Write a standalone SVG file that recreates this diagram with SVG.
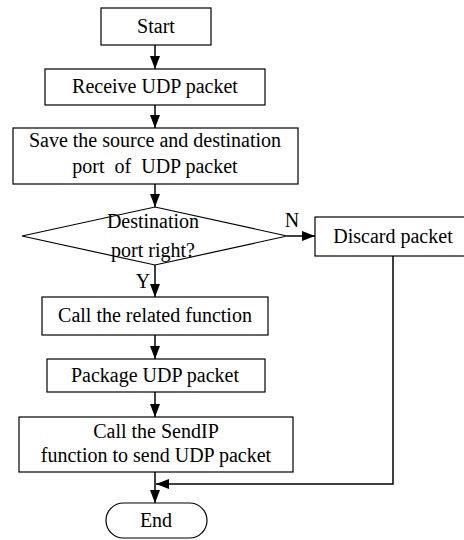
<svg xmlns="http://www.w3.org/2000/svg" width="464" height="540" viewBox="0 0 464 540">
  <defs>
    <marker id="arrow" markerUnits="userSpaceOnUse" markerWidth="14" markerHeight="10" refX="13" refY="5" orient="auto">
      <path d="M0,0 L13,5 L0,10 z" fill="#000"/>
    </marker>
    <style>
      .box { fill: #fff; stroke: #000; stroke-width: 1.2; }
      .lbl { font-family: "Liberation Serif", "Times New Roman", serif; font-size: 20px; fill: #000; stroke: none; text-anchor: middle; }
      .flow { fill: none; stroke: #000; stroke-width: 1.5; }
    </style>
  </defs>
  <rect width="464" height="540" fill="#fff"/>

  <!-- connectors -->
  <g id="connectors">
    <g class="flow">
      <line x1="155" y1="45" x2="155" y2="69" marker-end="url(#arrow)"/>
      <line x1="155" y1="105" x2="155" y2="128" marker-end="url(#arrow)"/>
      <line x1="155" y1="184" x2="155" y2="207" marker-end="url(#arrow)"/>
      <line x1="287" y1="236" x2="315" y2="236" marker-end="url(#arrow)"/>
      <line x1="155" y1="265" x2="155" y2="297" marker-end="url(#arrow)"/>
      <line x1="155" y1="335" x2="155" y2="359" marker-end="url(#arrow)"/>
      <line x1="155" y1="392" x2="155" y2="417" marker-end="url(#arrow)"/>
      <line x1="155" y1="472" x2="155" y2="503" marker-end="url(#arrow)"/>
      <polyline points="393,256 393,484 156,484" marker-end="url(#arrow)"/>
    </g>
    <text class="lbl" x="292" y="227">N</text>
    <text class="lbl" x="143" y="288">Y</text>
  </g>

  <g id="start">
    <rect class="box" x="101" y="8" width="110" height="37"/>
    <text class="lbl" x="156" y="33">Start</text>
  </g>

  <g id="receive">
    <rect class="box" x="45" y="69" width="220" height="36"/>
    <text class="lbl" x="155" y="93">Receive UDP packet</text>
  </g>

  <g id="save">
    <rect class="box" x="13" y="128" width="285" height="56"/>
    <text class="lbl" x="155" y="147">Save the source and destination</text>
    <text class="lbl" x="155" y="173" xml:space="preserve">port  of  UDP packet</text>
  </g>

  <g id="check">
    <polygon class="box" points="155,207 287,236 155,265 22,236"/>
    <text class="lbl" x="153" y="228">Destination</text>
    <text class="lbl" x="153" y="257">port right?</text>
  </g>

  <g id="discard">
    <rect class="box" x="315" y="217" width="156" height="39"/>
    <text class="lbl" x="393" y="243">Discard packet</text>
  </g>

  <g id="call">
    <rect class="box" x="42" y="297" width="226" height="38"/>
    <text class="lbl" x="155" y="322">Call the related function</text>
  </g>

  <g id="package">
    <rect class="box" x="47" y="359" width="218" height="33"/>
    <text class="lbl" x="155" y="382">Package UDP packet</text>
  </g>

  <g id="send">
    <rect class="box" x="19" y="417" width="274" height="55"/>
    <text class="lbl" x="156" y="438">Call the SendIP</text>
    <text class="lbl" x="156" y="462">function to send UDP packet</text>
  </g>

  <g id="end">
    <rect class="box" x="106" y="503" width="101" height="35" rx="17.5" ry="17.5"/>
    <text class="lbl" x="156" y="527">End</text>
  </g>
</svg>
